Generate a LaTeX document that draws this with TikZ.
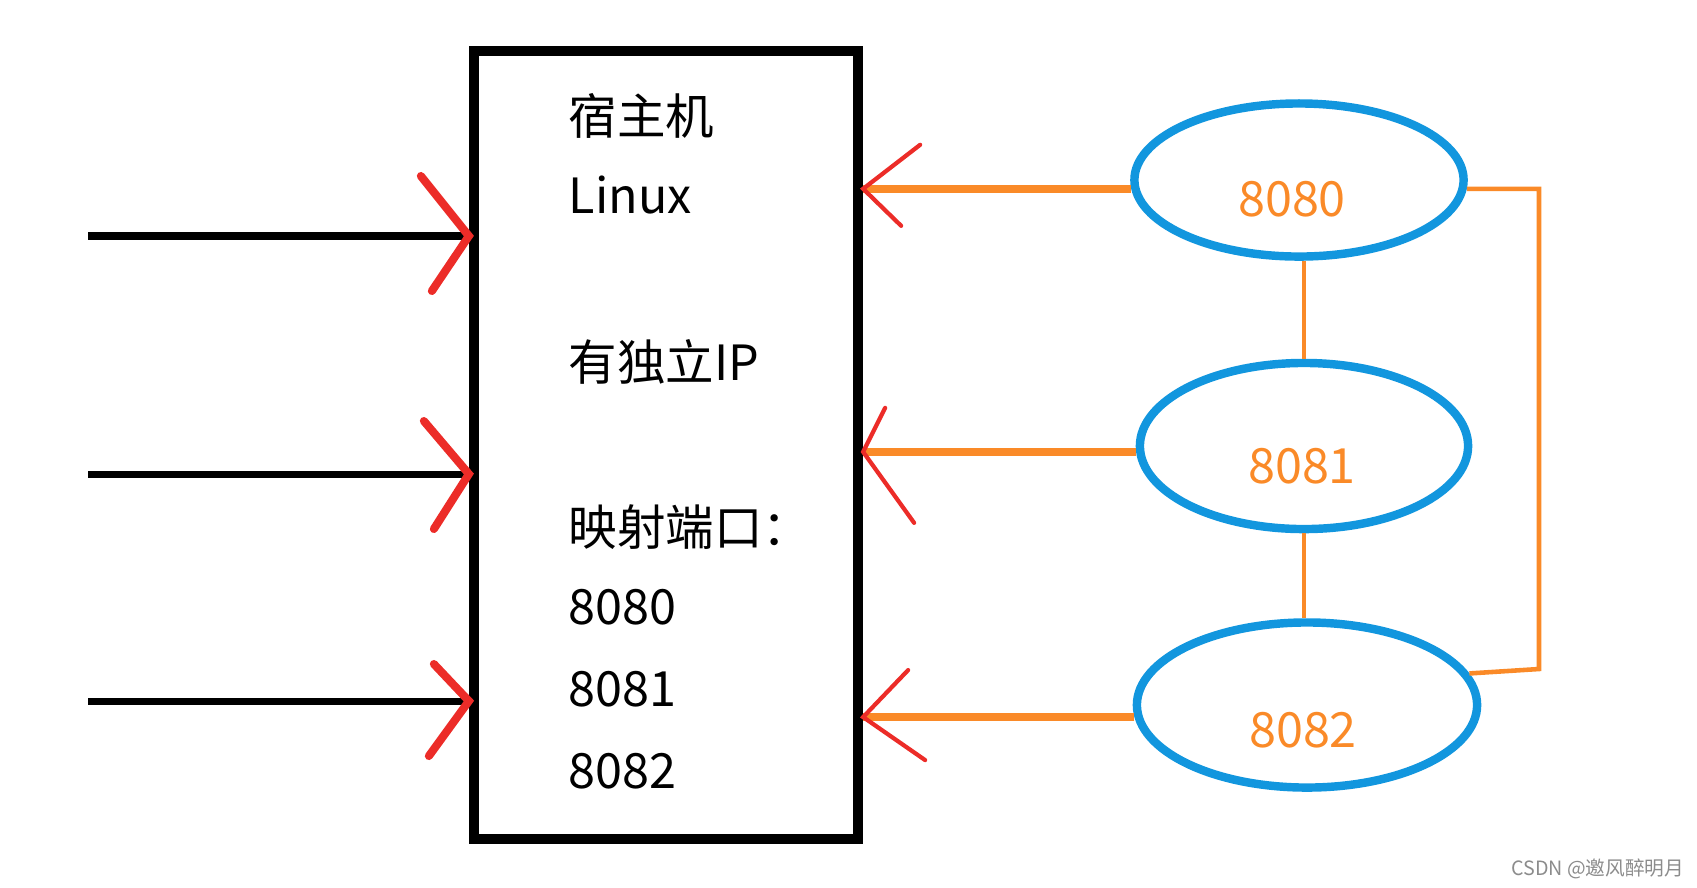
\documentclass[tikz,border=0pt]{standalone}
\usepackage{fontspec}
\setmainfont{Noto Sans CJK SC}
\usetikzlibrary{shapes.geometric}

\definecolor{portblue}{RGB}{18,150,222}
\definecolor{portorange}{RGB}{250,138,40}
\definecolor{arrowred}{RGB}{236,44,40}

\begin{document}
\begin{tikzpicture}[x=0.01cm,y=-0.01cm,
	hostbox/.style={draw,line width=2.85pt,minimum width=3.84cm,minimum height=7.88cm,inner sep=0pt},
	hosttext/.style={anchor=base west,inner sep=0pt,font=\fontsize{13.8}{16}\selectfont},
	port/.style={draw=portblue,line width=2.4pt,ellipse,inner sep=0pt},
	porttext/.style={anchor=base,inner sep=0pt,text=portorange,font=\fontsize{13.8}{16}\selectfont},
	feed/.style={line width=2pt},
	linkthick/.style={portorange,line width=2.2pt},
	linkthin/.style={portorange,line width=1.3pt},
	lhead/.style={arrowred,line width=2.3pt,line cap=round},
	rhead/.style={arrowred,line width=1.2pt,line cap=round}]
\useasboundingbox (0,0) rectangle (1697,887);
	% host machine
	\node[hostbox] (host) at (666,445) {};
	\node[hosttext] (hname) at (568,134) {宿主机};
	\node[hosttext] (hos) at (568,213) {Linux};
	\node[hosttext] (hip) at (568,380) {有独立IP};
	\node[hosttext] (hmap) at (568,545) {映射端口：};
	\node[hosttext] (h8080) at (568,624) {8080};
	\node[hosttext] (h8081) at (568,706) {8081};
	\node[hosttext] (h8082) at (568,788) {8082};
	% incoming requests
	\coordinate (in1) at (88,236);
	\coordinate (in2) at (88,474);
	\coordinate (in3) at (88,701);
	\draw[feed] (in1) -- (in1 -| host.west);
	\draw[feed] (in2) -- (in2 -| host.west);
	\draw[feed] (in3) -- (in3 -| host.west);
	\draw[lhead] (in1 -| host.west) ++(-48,-60) -- (in1 -| host.west) -- ++(-37,55);
	\draw[lhead] (in2 -| host.west) ++(-45,-53) -- (in2 -| host.west) -- ++(-35,55);
	\draw[lhead] (in3 -| host.west) ++(-35,-37) -- (in3 -| host.west) -- ++(-40,55);
	% containers
	\node[port,minimum width=3.29cm,minimum height=1.53cm] (e8080) at (1299,180) {};
	\node[port,minimum width=3.28cm,minimum height=1.66cm] (e8081) at (1304,446) {};
	\node[port,minimum width=3.40cm,minimum height=1.65cm] (e8082) at (1307,705) {};
	\node[porttext] (p8080) at (1292,216) {8080};
	\node[porttext] (p8081) at (1302,483) {8081};
	\node[porttext] (p8082) at (1303,747) {8082};
	% links between containers
	\draw[linkthin] (e8081.north) -- (e8081.north |- e8080.south);
	\draw[linkthin] (e8081.south) -- (e8081.south |- e8082.north);
	\coordinate (bend) at (1539,669);
	\draw[linkthin] (e8080.357) -| (bend) -- (e8082.11);
	% port mapping
	\coordinate (m1) at (e8080.183 -| host.east);
	\coordinate (m2) at (e8081.182 -| host.east);
	\coordinate (m3) at (e8082.184 -| host.east);
	\draw[linkthick] (e8080.183) -- (m1);
	\draw[linkthick] (e8081.182) -- (m2);
	\draw[linkthick] (e8082.184) -- (m3);
	\draw[rhead] (m1) ++(57,-44) -- (m1) -- ++(38,37);
	\draw[rhead] (m2) ++(22,-44) -- (m2) -- ++(51,71);
	\draw[rhead] (m3) ++(45,-47) -- (m3) -- ++(62,43);
	% watermark
	\node[anchor=base east,inner sep=0pt,text=black!45,font=\fontsize{5.6}{7}\selectfont] (mark) at (1685,875) {CSDN @邀风醉明月};
\end{tikzpicture}
\end{document}
